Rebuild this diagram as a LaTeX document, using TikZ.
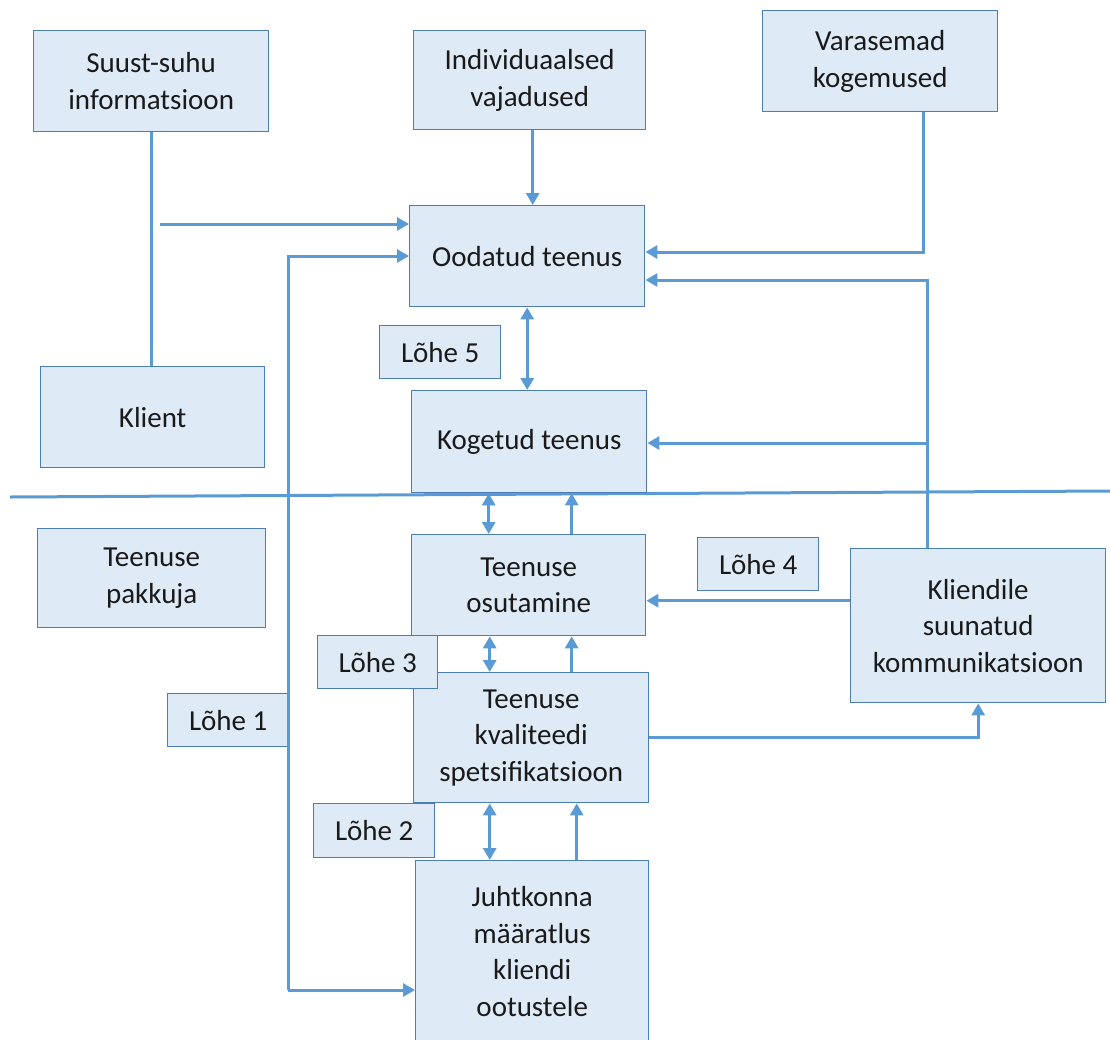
\documentclass[tikz,border=0pt]{standalone}
\usepackage{fontspec}
\setmainfont{Carlito}
\usetikzlibrary{arrows.meta,calc}
\definecolor{boxfill}{HTML}{DEEAF6}
\definecolor{boxline}{HTML}{4A7EB5}
\definecolor{conncol}{HTML}{5B9BD5}
\definecolor{txt}{HTML}{1A1A1A}
\tikzset{
  box/.style={draw=boxline, line width=1.4pt, fill=boxfill, anchor=north west,
    align=center, inner sep=0pt, text=txt, font=\fontsize{29}{36.5}\selectfont},
  conn/.style={draw=conncol, line width=3pt},
  arr/.style={conn, -{Triangle[length=12pt,width=13pt]}},
  darr/.style={conn, {Triangle[length=12pt,width=13pt]}-{Triangle[length=12pt,width=13pt]}},
}
\begin{document}
\begin{tikzpicture}[x=1pt,y=-1pt]
\useasboundingbox (0,0) rectangle (1110,1039);
% free coordinates
\coordinate (hl) at (10,497);
\coordinate (hr) at (1110,491);
\coordinate (a1) at (160,224);
\coordinate (l1t) at (288,256);
\coordinate (l1b) at (288,990);
\coordinate (v1) at (923,252);
\coordinate (k1) at (927,280);
\coordinate (k2) at (927,443);
% dividing line
\draw[conn] (hl) -- (hr);
% main boxes
\node[box, minimum width=235pt, minimum height=101pt] (suust) at (33,30) {Suust-suhu\\informatsioon};
\node[box, minimum width=232pt, minimum height=99pt] (indiv) at (413,30) {Individuaalsed\\vajadused};
\node[box, minimum width=235pt, minimum height=101pt] (varas) at (762,10) {Varasemad\\kogemused};
\node[box, minimum width=235pt, minimum height=101pt] (ood) at (409,205) {Oodatud teenus};
\node[box, minimum width=235pt, minimum height=102pt] (kog) at (411,390) {Kogetud teenus};
\node[box, minimum width=224pt, minimum height=101pt] (klient) at (40,366) {Klient};
\node[box, minimum width=228pt, minimum height=99pt] (pakk) at (37,528) {Teenuse\\pakkuja};
\node[box, minimum width=234pt, minimum height=101pt] (osut) at (411,534) {Teenuse\\osutamine};
\node[box, minimum width=255pt, minimum height=154pt] (kliend) at (850,548) {Kliendile\\suunatud\\kommunikatsioon};
\node[box, minimum width=235pt, minimum height=130pt] (kval) at (413,672) {Teenuse\\kvaliteedi\\spetsifikatsioon};
\node[box, minimum width=233pt, minimum height=182pt] (juht) at (415,860) {Juhtkonna\\määratlus\\kliendi\\ootustele};
% connectors
\draw[conn] (suust.south) -- (suust.south |- klient.north);
\draw[arr] (a1) -- (a1 -| ood.west);
\draw[arr] (l1b) -- (l1t) -- (l1t -| ood.west);
\draw[arr] (l1b) -- (l1b -| juht.west);
\draw[arr] ([xshift=3pt]indiv.south) -- ([xshift=3pt]indiv.south |- ood.north);
\draw[arr] (varas.south -| v1) -- (v1) -- (v1 -| ood.east);
\draw[conn] (kliend.north -| k1) -- ([yshift=1.5pt]k1);
\draw[arr] (k1) -- (k1 -| ood.east);
\draw[arr] (k2) -- (k2 -| kog.east);
\draw[darr] (ood.south) -- (ood.south |- kog.north);
\draw[darr] ([xshift=-40pt]osut.north) -- ([xshift=-40pt]osut.north |- kog.south);
\draw[arr] ([xshift=43pt]osut.north) -- ([xshift=43pt]osut.north |- kog.south);
\draw[darr] ([xshift=-41.5pt]kval.north) -- ([xshift=-41.5pt]kval.north |- osut.south);
\draw[arr] ([xshift=40.5pt]kval.north) -- ([xshift=40.5pt]kval.north |- osut.south);
\draw[darr] ([xshift=-42.5pt]juht.north) -- ([xshift=-42.5pt]juht.north |- kval.south);
\draw[arr] ([xshift=44.5pt]juht.north) -- ([xshift=44.5pt]juht.north |- kval.south);
\draw[arr] ([yshift=25pt]kliend.west) -- ([yshift=25pt]kliend.west -| osut.east);
\draw[arr] (kval.east) -- (kval.east -| kliend.south) -- (kliend.south);
% gap labels
\node[box, minimum width=121pt, minimum height=53pt] (l5) at (379,325) {Lõhe 5};
\node[box, minimum width=121pt, minimum height=53pt] (l4) at (697,537) {Lõhe 4};
\node[box, minimum width=120pt, minimum height=53pt] (l3) at (317,635) {Lõhe 3};
\node[box, minimum width=121pt, minimum height=53pt] (l1) at (167,693) {Lõhe 1};
\node[box, minimum width=121pt, minimum height=54pt] (l2) at (313,803) {Lõhe 2};
\draw[conn] (l1b) -- (l1t);
\end{tikzpicture}
\end{document}
